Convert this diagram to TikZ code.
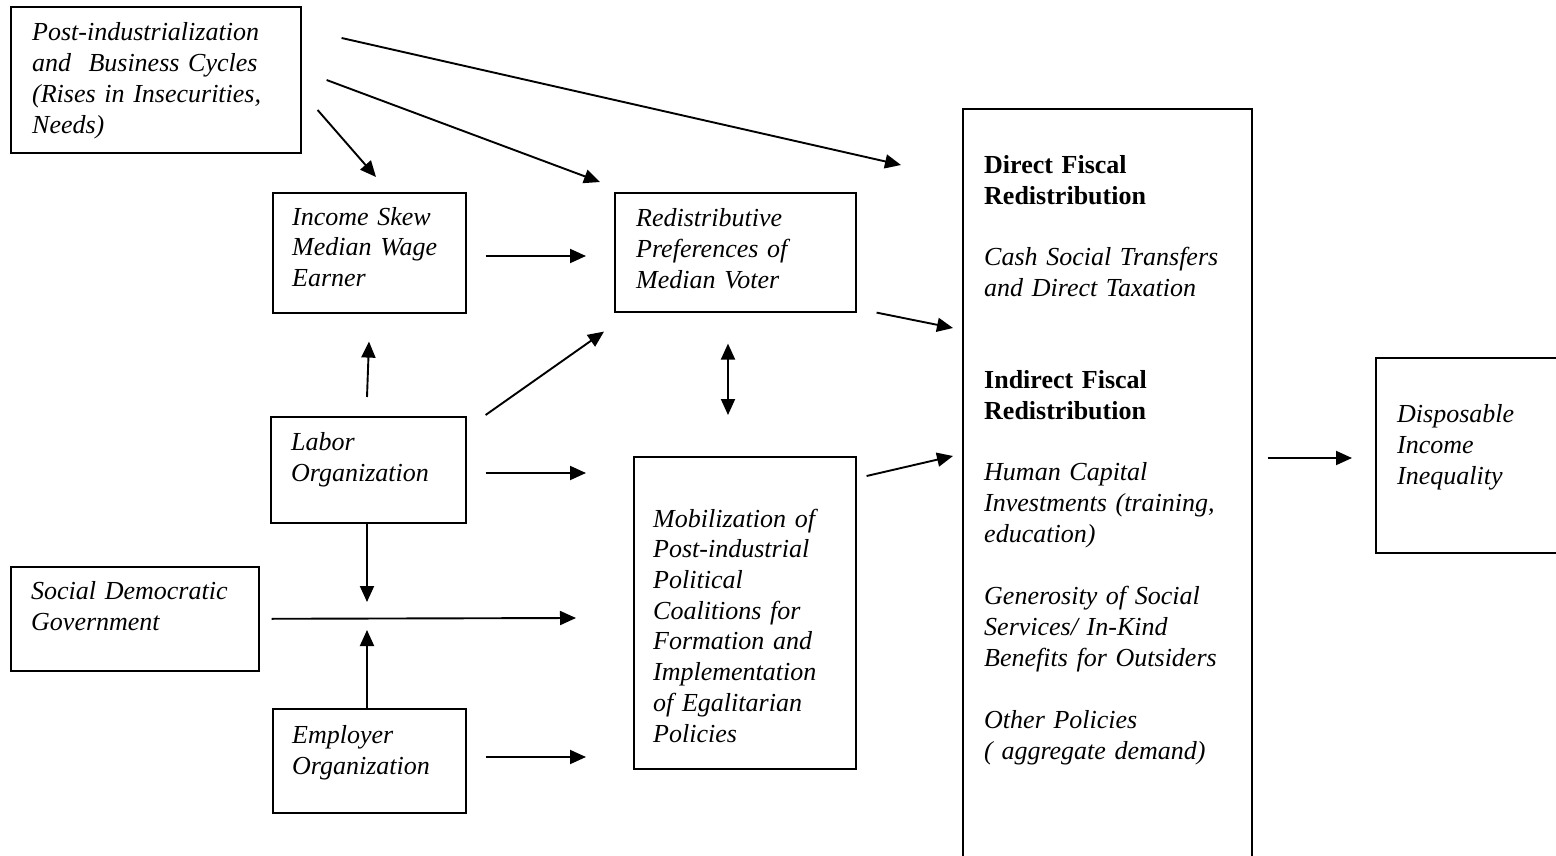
\documentclass[tikz,border=0pt]{standalone}
\usepackage{fontspec}
\setmainfont{Liberation Serif}
\usetikzlibrary{arrows.meta}
\begin{document}
\begin{tikzpicture}[x=1pt,y=-1pt,
  box/.style={draw,line width=1.6pt,inner sep=0pt,anchor=north west},
  txt/.style={anchor=base west,align=left,inner sep=0pt,text width=#1,
    font=\fontsize{26}{31}\selectfont\itshape},
  txt/.default=320pt,
  arr/.style={line width=1.9pt,-{Triangle[length=16pt,width=14pt]}},
  darr/.style={line width=1.9pt,{Triangle[length=16pt,width=14pt]}-{Triangle[length=16pt,width=14pt]}}]
\clip (0,0) rectangle (1556,856);
\useasboundingbox (0,0) rectangle (1556,856);
% boxes
\node[box,minimum width=290pt,minimum height=146pt] (pi) at (10,6) {};
\node[box,minimum width=193pt,minimum height=120pt] (inc) at (272,192) {};
\node[box,minimum width=241pt,minimum height=119pt] (red) at (614,192) {};
\node[box,minimum width=195pt,minimum height=106pt] (lab) at (270,416) {};
\node[box,minimum width=248pt,minimum height=104pt] (sdg) at (10,566) {};
\node[box,minimum width=193pt,minimum height=104pt] (emp) at (272,708) {};
\node[box,minimum width=222pt,minimum height=312pt] (mob) at (633,456) {};
\node[box,minimum width=289pt,minimum height=780pt] (fis) at (962,108) {};
\node[box,minimum width=220pt,minimum height=195pt] (dii) at (1375,357) {};
% texts
\node[txt] (tpi) at (32,41) {Post-industrialization\\and\ \ Business Cycles\\(Rises in Insecurities,\\Needs)};
\node[txt] (tinc) at (292,225) {Income Skew\\Median Wage\\Earner};
\node[txt] (tred) at (636,226) {Redistributive\\Preferences of\\Median Voter};
\node[txt] (tlab) at (291,450) {Labor\\Organization};
\node[txt] (tsdg) at (31,599) {Social Democratic\\Government};
\node[txt] (temp) at (292,743) {Employer\\Organization};
\node[txt] (tmob) at (653,527) {\fontsize{26}{30.7}\selectfont Mobilization of\\Post-industrial\\Political\\Coalitions for\\Formation and\\Implementation\\of Egalitarian\\Policies};
\node[txt] (tfis) at (984,174) {{\upshape\bfseries Direct Fiscal\\Redistribution}\\[30pt]Cash Social Transfers\\and Direct Taxation\\[61pt]{\upshape\bfseries Indirect Fiscal\\Redistribution}\\[30pt]Human Capital\\Investments (training,\\education)\\[31pt]Generosity of Social\\Services/ In-Kind\\Benefits for Outsiders\\[31pt]Other Policies\\( aggregate demand)};
\node[txt] (tdii) at (1397,422) {Disposable\\Income\\Inequality};
% free arrow end
\coordinate (c1) at (367,618);
% connectors
\draw[arr] ([shift={(40,32)}]pi.north east) -- ([shift={(-61,57)}]fis.north west);
\draw[arr] ([shift={(25,74)}]pi.north east) -- ([shift={(-14,-10)}]red.north west);
\draw[arr] ([shift={(16,104)}]pi.north east) -- ([shift={(104,-15)}]inc.north west);
\draw[arr] ([shift={(19,64)}]inc.north east) -- ([shift={(-28,64)}]red.north west);
\draw[arr] ([shift={(97,-19)}]lab.north west) -- ([shift={(97,28)}]inc.south west);
\draw[arr] ([shift={(19,-1)}]lab.north east) -- ([shift={(-10,19)}]red.south west);
\draw[darr] ([shift={(114,31)}]red.south west) -- ([shift={(95,-41)}]mob.north west);
\draw[arr] ([shift={(19,57)}]lab.north east) -- ([shift={(-47,17)}]mob.north west);
\draw[arr] (lab.south west -| c1) -- ([yshift=16pt]c1);
\draw[arr] ([xshift=12]sdg.east) -- ([shift={(-57,162)}]mob.north west);
\draw[arr] (emp.north west -| c1) -- ([yshift=-12pt]c1);
\draw[arr] ([shift={(19,49)}]emp.north east) -- ([shift={(-47,301)}]mob.north west);
\draw[arr] ([shift={(20,0)}]red.south east) -- ([shift={(-9,220)}]fis.north west);
\draw[arr] ([shift={(10,20)}]mob.north east) -- ([shift={(-9,348)}]fis.north west);
\draw[arr] ([shift={(15,350)}]fis.north east) -- ([shift={(-23,101)}]dii.north west);
\end{tikzpicture}
\end{document}
